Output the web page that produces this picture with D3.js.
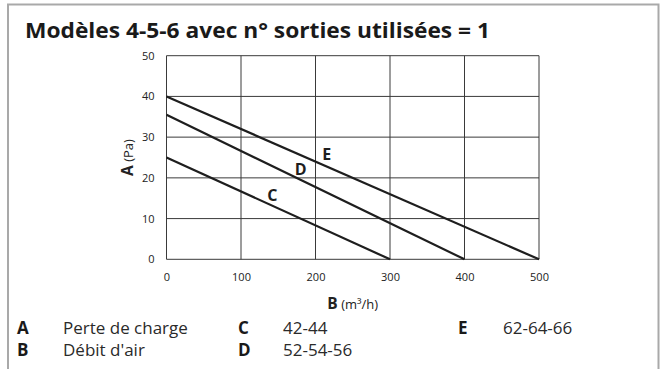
<!DOCTYPE html>
<html>
<head>
<meta charset="utf-8">
<script src="https://cdn.jsdelivr.net/npm/d3@7"></script>
<style>
  html, body { margin: 0; padding: 0; background: #fff; }
  svg { display: block; font-family: "Open Sans", "Noto Sans", sans-serif; }
</style>
</head>
<body>
<svg id="chart" width="660" height="369"></svg>
<script>
// Pressure-drop curves per model group
const flowTicks = [0, 100, 200, 300, 400, 500];
const pressureTicks = [0, 10, 20, 30, 40, 50];
const seriesNames = ["C", "D", "E"];
const seriesFlow = [[0, 300], [0, 400], [0, 500]];
const seriesPressure = [[25, 0], [35.5, 0], [40, 0]];
const seriesLabelAt = [[142, 15.8], [180, 22.2], [215, 25.8]];
const legendKeys = ["A", "B", "C", "D", "E"];
const legendTexts = ["Perte de charge", "Débit d'air", "42-44", "52-54-56", "62-64-66"];

const svg = d3.select("#chart");
const H = 369;
const plot = { left: 166.5, right: 539, top: 55.7, bottom: 259.3 };

// Frame
svg.append("path")
  .attr("d", `M8,${H} V4.5 H658.5 V${H}`)
  .attr("fill", "none").attr("stroke", "#a9a9a9").attr("stroke-width", 2);

// Title
svg.append("text")
  .attr("x", 25).attr("y", 38)
  .attr("font-size", 22).attr("font-weight", 700).attr("fill", "#1a1a1a")
  .attr("textLength", 465).attr("lengthAdjust", "spacingAndGlyphs")
  .text("Modèles 4-5-6 avec n° sorties utilisées = 1");

const x = d3.scaleLinear().domain([0, 500]).range([plot.left, plot.right]);
const y = d3.scaleLinear().domain([0, 50]).range([plot.bottom, plot.top]);

// Grid
const g = svg.append("g");
g.selectAll("line.v").data(flowTicks).join("line")
  .attr("x1", d => x(d)).attr("x2", d => x(d))
  .attr("y1", plot.top).attr("y2", plot.bottom)
  .attr("stroke", "#3a3a3a").attr("stroke-width", 1);
g.selectAll("line.h").data(pressureTicks).join("line")
  .attr("y1", d => y(d)).attr("y2", d => y(d))
  .attr("x1", plot.left).attr("x2", plot.right)
  .attr("stroke", "#3a3a3a").attr("stroke-width", 1);

// Axes (labels only)
const xAxis = svg.append("g")
  .attr("transform", `translate(0,${plot.bottom})`)
  .call(d3.axisBottom(x).tickValues(flowTicks).tickSize(0).tickPadding(14));
const yAxis = svg.append("g")
  .attr("transform", `translate(${plot.left},0)`)
  .call(d3.axisLeft(y).tickValues(pressureTicks).tickSize(0).tickPadding(12));
[xAxis, yAxis].forEach(a => {
  a.select(".domain").remove();
  a.selectAll("text").attr("font-size", 11).attr("fill", "#222")
    .attr("font-family", "'Open Sans', sans-serif");
});

// Axis titles
const xt = svg.append("text")
  .attr("x", (plot.left + plot.right) / 2).attr("y", 309)
  .attr("text-anchor", "middle").attr("fill", "#222");
xt.append("tspan").attr("font-weight", 700).attr("font-size", 15.5).text("B");
xt.append("tspan").attr("font-size", 13).text(" (m³/h)");

const yt = svg.append("text")
  .attr("transform", `translate(133,${(plot.top + plot.bottom) / 2}) rotate(-90)`)
  .attr("text-anchor", "middle").attr("fill", "#222");
yt.append("tspan").attr("font-weight", 700).attr("font-size", 15.5).text("A");
yt.append("tspan").attr("font-size", 13).text(" (Pa)");

// Curves
const line = d3.line().x(d => x(d[0])).y(d => y(d[1]));
seriesNames.forEach((name, i) => {
  const pts = seriesFlow[i].map((f, j) => [f, seriesPressure[i][j]]);
  svg.append("path").datum(pts)
    .attr("d", line)
    .attr("fill", "none").attr("stroke", "#1e1e1e").attr("stroke-width", 2.2);
  svg.append("text")
    .attr("x", x(seriesLabelAt[i][0])).attr("y", y(seriesLabelAt[i][1]))
    .attr("text-anchor", "middle").attr("dominant-baseline", "central")
    .attr("font-size", 16).attr("font-weight", 700).attr("fill", "#1e1e1e")
    .text(name);
});

// Legend
const legendPos = [[17, 327], [17, 349], [238, 327], [238, 349], [458, 327]];
const legendTextX = [63, 63, 283, 283, 503];
legendKeys.forEach((k, i) => {
  svg.append("text")
    .attr("x", legendPos[i][0]).attr("y", legendPos[i][1])
    .attr("dominant-baseline", "central")
    .attr("font-size", 17).attr("font-weight", 700).attr("fill", "#1a1a1a")
    .text(k);
  svg.append("text")
    .attr("x", legendTextX[i]).attr("y", legendPos[i][1])
    .attr("dominant-baseline", "central")
    .attr("font-size", 17).attr("fill", "#2a2a2a")
    .text(legendTexts[i]);
});
</script>
</body>
</html>
